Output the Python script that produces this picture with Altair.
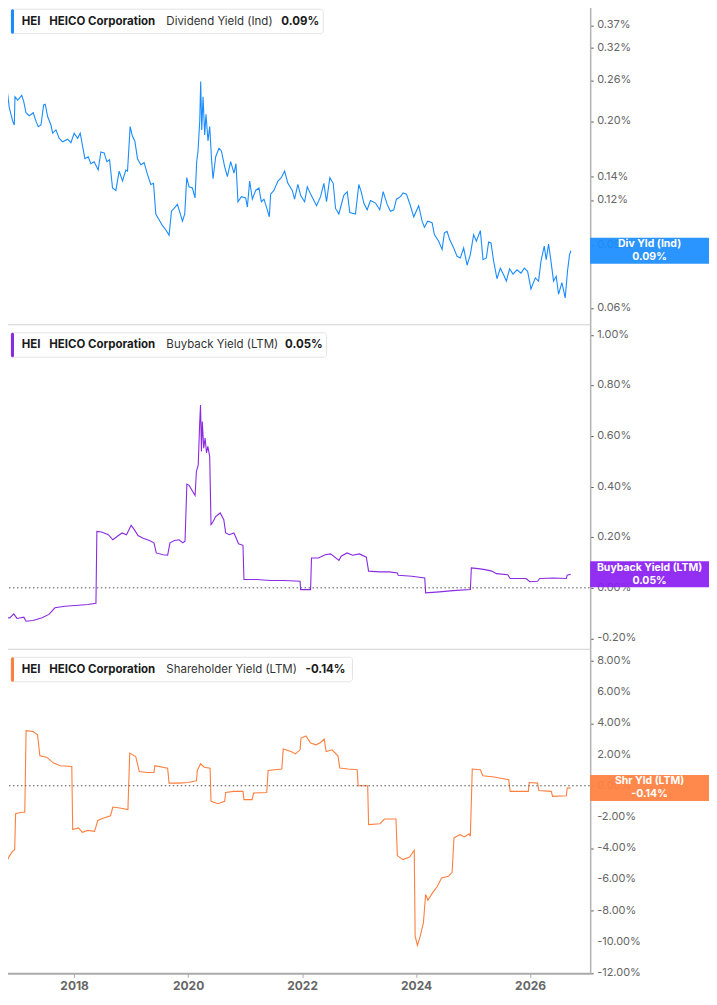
# HEI yields dashboard: dividend, buyback, shareholder yield


import pandas as pd
import altair as alt


# x as decimal year, values in percent
div_years = [
    2016.717, 2016.775, 2016.834, 2016.862, 2016.922, 2016.950, 2016.962, 2017.010, 2017.080, 2017.115,
    2017.155, 2017.213, 2017.283, 2017.330, 2017.371, 2017.418, 2017.465, 2017.493, 2017.535, 2017.593,
    2017.623, 2017.681, 2017.739, 2017.798, 2017.886, 2017.944, 2018.001, 2018.061, 2018.107, 2018.149,
    2018.189, 2018.247, 2018.294, 2018.352, 2018.422, 2018.469, 2018.527, 2018.574, 2018.622, 2018.674,
    2018.732, 2018.790, 2018.849, 2018.907, 2018.937, 2018.983, 2019.025, 2019.065, 2019.112, 2019.170,
    2019.228, 2019.287, 2019.345, 2019.393, 2019.433, 2019.491, 2019.550, 2019.608, 2019.666, 2019.708,
    2019.754, 2019.813, 2019.901, 2019.941, 2019.976, 2020.016, 2020.076, 2020.121, 2020.151, 2020.174,
    2020.204, 2020.221, 2020.239, 2020.262, 2020.291, 2020.314, 2020.349, 2020.379, 2020.414, 2020.437,
    2020.484, 2020.542, 2020.584, 2020.642, 2020.689, 2020.747, 2020.805, 2020.840, 2020.875, 2020.935,
    2021.010, 2021.040, 2021.080, 2021.127, 2021.185, 2021.243, 2021.285, 2021.331, 2021.390, 2021.425,
    2021.448, 2021.506, 2021.576, 2021.635, 2021.693, 2021.751, 2021.828, 2021.868, 2021.926, 2021.974,
    2022.044, 2022.091, 2022.161, 2022.254, 2022.324, 2022.382, 2022.429, 2022.487, 2022.546, 2022.587,
    2022.645, 2022.732, 2022.792, 2022.837, 2022.937, 2022.995, 2023.037, 2023.083, 2023.142, 2023.200,
    2023.288, 2023.363, 2023.423, 2023.493, 2023.550, 2023.609, 2023.656, 2023.726, 2023.773, 2023.831,
    2023.901, 2023.959, 2024.046, 2024.106, 2024.146, 2024.204, 2024.281, 2024.322, 2024.397, 2024.457,
    2024.497, 2024.544, 2024.590, 2024.660, 2024.719, 2024.777, 2024.835, 2024.895, 2024.952, 2025.010,
    2025.058, 2025.128, 2025.175, 2025.233, 2025.273, 2025.315, 2025.361, 2025.420, 2025.478, 2025.536,
    2025.584, 2025.641, 2025.701, 2025.771, 2025.841, 2025.899, 2025.957, 2026.016, 2026.092, 2026.149,
    2026.192, 2026.249, 2026.284, 2026.325, 2026.367, 2026.412, 2026.459, 2026.500, 2026.559, 2026.617,
    2026.657, 2026.693, 2026.717,
]
div_values = [
    0.229, 0.237, 0.238, 0.218, 0.200, 0.195, 0.234, 0.229, 0.236, 0.227,
    0.211, 0.207, 0.211, 0.200, 0.193, 0.195, 0.222, 0.223, 0.206, 0.195,
    0.185, 0.189, 0.179, 0.175, 0.178, 0.174, 0.185, 0.179, 0.185, 0.170,
    0.157, 0.159, 0.152, 0.154, 0.146, 0.164, 0.163, 0.154, 0.156, 0.130,
    0.128, 0.145, 0.136, 0.146, 0.145, 0.193, 0.181, 0.176, 0.157, 0.151,
    0.153, 0.142, 0.133, 0.134, 0.110, 0.106, 0.102, 0.0994, 0.0959, 0.112,
    0.114, 0.117, 0.105, 0.110, 0.139, 0.131, 0.130, 0.122, 0.154, 0.165,
    0.200, 0.258, 0.189, 0.234, 0.183, 0.209, 0.176, 0.193, 0.154, 0.138,
    0.159, 0.168, 0.165, 0.149, 0.140, 0.154, 0.143, 0.152, 0.119, 0.123,
    0.122, 0.115, 0.136, 0.121, 0.128, 0.130, 0.119, 0.121, 0.113, 0.108,
    0.125, 0.128, 0.136, 0.139, 0.145, 0.134, 0.128, 0.121, 0.133, 0.124,
    0.119, 0.131, 0.124, 0.116, 0.123, 0.134, 0.119, 0.139, 0.134, 0.114,
    0.110, 0.124, 0.127, 0.111, 0.110, 0.133, 0.127, 0.118, 0.113, 0.120,
    0.118, 0.113, 0.127, 0.117, 0.112, 0.113, 0.121, 0.123, 0.126, 0.125,
    0.116, 0.108, 0.116, 0.105, 0.101, 0.105, 0.104, 0.0963, 0.0923, 0.0876,
    0.0974, 0.0984, 0.0933, 0.0884, 0.0838, 0.0829, 0.0884, 0.0791, 0.0847, 0.0963,
    0.0923, 0.0988, 0.0820, 0.0829, 0.0919, 0.0913, 0.0812, 0.0725, 0.0776, 0.0744,
    0.0714, 0.0773, 0.0747, 0.0768, 0.0752, 0.0776, 0.0761, 0.0679, 0.0729, 0.0714,
    0.0812, 0.0894, 0.0820, 0.0907, 0.0812, 0.0714, 0.0737, 0.0656, 0.0707, 0.0641,
    0.0761, 0.0847, 0.0868,
]

buy_years = [
    2016.717, 2016.876, 2016.941, 2016.997, 2017.118, 2017.157, 2017.278, 2017.439, 2017.558, 2017.663,
    2017.838, 2018.078, 2018.240, 2018.383, 2018.399, 2018.480, 2018.601, 2018.679, 2018.760, 2018.841,
    2018.919, 2019.000, 2019.056, 2019.121, 2019.200, 2019.321, 2019.401, 2019.442, 2019.561, 2019.641,
    2019.682, 2019.762, 2019.841, 2019.906, 2019.946, 2019.978, 2020.018, 2020.081, 2020.122, 2020.146,
    2020.178, 2020.202, 2020.218, 2020.234, 2020.249, 2020.274, 2020.298, 2020.323, 2020.346, 2020.379,
    2020.402, 2020.442, 2020.483, 2020.563, 2020.626, 2020.659, 2020.723, 2020.803, 2020.843, 2020.884,
    2020.963, 2020.980, 2021.203, 2021.444, 2021.684, 2021.965, 2021.974, 2022.149, 2022.165, 2022.286,
    2022.405, 2022.501, 2022.647, 2022.685, 2022.790, 2022.887, 2023.006, 2023.127, 2023.167, 2023.367,
    2023.528, 2023.672, 2023.687, 2023.927, 2024.152, 2024.168, 2024.409, 2024.649, 2024.953, 2024.970,
    2025.089, 2025.210, 2025.329, 2025.410, 2025.609, 2025.650, 2025.930, 2025.995, 2026.132, 2026.170,
    2026.412, 2026.637, 2026.652, 2026.715,
]
buy_values = [
    -0.121, -0.118, -0.103, -0.121, -0.116, -0.132, -0.129, -0.118, -0.105, -0.079,
    -0.073, -0.069, -0.066, -0.061, 0.223, 0.221, 0.210, 0.190, 0.204, 0.217,
    0.210, 0.247, 0.230, 0.207, 0.197, 0.187, 0.178, 0.138, 0.131, 0.129,
    0.178, 0.187, 0.190, 0.178, 0.184, 0.410, 0.405, 0.381, 0.365, 0.460,
    0.486, 0.644, 0.723, 0.539, 0.657, 0.552, 0.592, 0.533, 0.559, 0.519,
    0.250, 0.263, 0.282, 0.296, 0.269, 0.217, 0.210, 0.217, 0.197, 0.174,
    0.168, 0.033, 0.033, 0.029, 0.029, 0.026, -0.007, -0.007, 0.118, 0.118,
    0.131, 0.134, 0.108, 0.125, 0.138, 0.129, 0.134, 0.121, 0.066, 0.063,
    0.063, 0.059, 0.050, 0.046, 0.039, -0.020, -0.016, -0.011, -0.007, 0.079,
    0.076, 0.072, 0.066, 0.056, 0.052, 0.037, 0.037, 0.024, 0.026, 0.037,
    0.039, 0.037, 0.050, 0.054,
]

shr_years = [
    2016.717, 2016.813, 2016.861, 2016.917, 2016.957, 2016.973, 2017.078, 2017.134, 2017.157, 2017.278,
    2017.358, 2017.399, 2017.518, 2017.639, 2017.758, 2017.959, 2017.975, 2018.078, 2018.143, 2018.240,
    2018.359, 2018.415, 2018.520, 2018.639, 2018.679, 2018.800, 2018.944, 2018.976, 2019.081, 2019.144,
    2019.280, 2019.401, 2019.417, 2019.641, 2019.666, 2019.841, 2020.002, 2020.146, 2020.162, 2020.218,
    2020.283, 2020.386, 2020.402, 2020.523, 2020.642, 2020.659, 2020.803, 2020.963, 2020.980, 2021.124,
    2021.148, 2021.380, 2021.404, 2021.644, 2021.669, 2021.806, 2021.884, 2021.965, 2021.981, 2022.068,
    2022.149, 2022.245, 2022.326, 2022.389, 2022.422, 2022.526, 2022.629, 2022.662, 2022.806, 2022.967,
    2022.983, 2023.151, 2023.167, 2023.367, 2023.447, 2023.647, 2023.672, 2023.768, 2023.887, 2023.968,
    2023.984, 2024.024, 2024.073, 2024.129, 2024.168, 2024.208, 2024.288, 2024.369, 2024.448, 2024.569,
    2024.633, 2024.665, 2024.768, 2024.849, 2024.930, 2024.953, 2024.986, 2025.129, 2025.170, 2025.369,
    2025.627, 2025.650, 2025.970, 2025.986, 2026.132, 2026.154, 2026.372, 2026.396, 2026.637, 2026.652,
    2026.715,
]
shr_values = [
    -4.77, -4.86, -4.52, -4.20, -4.09, -1.79, -1.70, -1.70, 3.53, 3.47,
    3.26, 1.92, 1.83, 1.45, 1.28, 1.23, -2.81, -2.70, -2.98, -2.86,
    -2.92, -2.22, -2.06, -1.92, -1.36, -1.42, -1.53, 2.09, 1.87, 0.91,
    0.85, 0.85, 1.28, 1.13, 0.17, 0.17, 0.21, 0.32, 0.98, 1.41,
    1.19, 1.13, -1.00, -1.15, -1.00, -0.43, -0.36, -0.36, -0.89, -0.89,
    -0.47, -0.43, 0.98, 1.07, 2.35, 2.19, 2.04, 2.30, 3.05, 3.19,
    2.73, 2.62, 2.77, 2.98, 2.19, 2.30, 1.92, 1.13, 1.07, 1.02,
    0.00, 0.00, -2.49, -2.43, -2.13, -2.13, -4.47, -4.73, -4.56, -4.13,
    -9.63, -10.22, -9.63, -8.77, -6.96, -7.33, -6.86, -6.47, -5.90, -5.80,
    -5.54, -3.34, -3.13, -3.28, -3.07, -3.24, 1.07, 1.02, 0.64, 0.56,
    0.38, -0.36, -0.36, 0.21, 0.17, -0.30, -0.36, -0.68, -0.64, -0.15,
    -0.14,
]

metrics = ["Dividend Yield (Ind)", "Buyback Yield (LTM)", "Shareholder Yield (LTM)"]
tag_names = ["Div Yld (Ind)", "Buyback Yield (LTM)", "Shr Yld (LTM)"]
latest = [0.09, 0.05, -0.14]
line_colors = ["#1a8cff", "#8a2be2", "#ff7f3f"]
tag_colors = ["#1a8cff", "#8a1ff2", "#ff8040"]

div_ticks = [0.06, 0.09, 0.12, 0.14, 0.20, 0.26, 0.32, 0.37]
buy_ticks = [-0.2, 0.0, 0.2, 0.4, 0.6, 0.8, 1.0]
shr_ticks = [-12, -10, -8, -6, -4, -2, 0, 2, 4, 6, 8]
year_ticks = [2018, 2020, 2022, 2024, 2026]

FONT = "Inter"
W = 590
X_DOMAIN = [2016.717, 2027.055]

# flat box drawn as a custom symbol: x in [-1, 1] spans sqrt(size) pixels
TAG_W, TAG_H = 119, 26
_h = TAG_H / TAG_W
TAG_SHAPE = f"M -1 -{_h:.4f} L 1 -{_h:.4f} L 1 {_h:.4f} L -1 {_h:.4f} Z"

one_row = pd.DataFrame({"k": [0]})


def panel(i, years, values, y_scale, ticks, height, value_x, legend_right,
          zero_line=False, bottom=False):
    df = pd.DataFrame({"year": years, "value": values})

    if bottom:
        x_axis = alt.Axis(
            values=year_ticks, format="d", title=None, grid=False,
            labelFont=FONT, labelFontWeight="bold", labelFontSize=12,
            labelColor="#666", labelPadding=3,
            tickColor="#aaa", tickSize=4,
            domainColor="#aaa", domainWidth=2,
        )
    else:
        x_axis = alt.Axis(labels=False, ticks=False, title=None, grid=False,
                          domainColor="#d0d0d0", domainWidth=1)

    # the axis gives the line and ticks, its labels are a text layer below
    y_axis = alt.Axis(
        orient="right", values=ticks, title=None, grid=False, labels=False,
        tickColor="#555", tickSize=3,
        domainColor="#b3b3b3", domainWidth=1.5,
    )
    y_enc = alt.Y("value:Q", scale=y_scale, axis=y_axis)

    line = alt.Chart(df).mark_line(
        color=line_colors[i], strokeWidth=1.1, clip=True
    ).encode(
        x=alt.X("year:Q", scale=alt.Scale(domain=X_DOMAIN, nice=False, zero=False), axis=x_axis),
        y=y_enc,
    )

    layers = [line]

    # dotted line at zero
    if zero_line:
        layers.append(
            alt.Chart(one_row).mark_rule(color="#555", strokeDash=[1.5, 2.5], strokeWidth=1)
            .encode(y=alt.datum(0), x=alt.value(0), x2=alt.value(W))
        )

    # right axis tick labels
    tick_df = pd.DataFrame({"value": ticks, "label": [f"{t:.2f}%" for t in ticks]})
    layers.append(
        alt.Chart(tick_df).mark_text(
            align="left", baseline="middle", font=FONT, fontSize=11, color="#666",
        ).encode(x=alt.value(W + 7), y=y_enc, text="label:N")
    )

    # legend box, top left
    layers.append(
        alt.Chart(one_row).mark_rect(fill="white", stroke="#e4e4e4", strokeWidth=1, cornerRadius=3)
        .encode(x=alt.value(10), x2=alt.value(legend_right), y=alt.value(8.5), y2=alt.value(33))
    )
    layers.append(
        alt.Chart(one_row).mark_rect(fill=line_colors[i], cornerRadius=1.5)
        .encode(x=alt.value(10), x2=alt.value(13), y=alt.value(8.5), y2=alt.value(33))
    )
    legend_bits = [
        ("HEI", 20.7, "bold", "#1a1a1a"),
        ("HEICO Corporation", 48.3, "bold", "#1a1a1a"),
        (metrics[i], 165.6, "normal", "#333"),
        (f"{latest[i]:.2f}%", value_x, "bold", "#1a1a1a"),
    ]
    for text, tx, weight, col in legend_bits:
        layers.append(
            alt.Chart(one_row).mark_text(
                text=text, align="left", baseline="middle", font=FONT,
                fontSize=11.5, fontWeight=weight, color=col,
            ).encode(x=alt.value(tx), y=alt.value(21))
        )

    # value tag on the right axis, at the last point
    tag = pd.DataFrame({
        "value": [values[-1]],
        "name": [tag_names[i]],
        "label": [f"{latest[i]:.2f}%"],
    })
    layers.append(
        alt.Chart(tag).mark_point(
            shape=TAG_SHAPE, size=TAG_W * TAG_W, filled=True,
            color=tag_colors[i], opacity=0.93, strokeWidth=0,
        ).encode(x=alt.value(W + TAG_W / 2), y=y_enc)
    )
    for field, dy in [("name", -6.5), ("label", 6.5)]:
        layers.append(
            alt.Chart(tag).mark_text(
                font=FONT, fontSize=10.5, fontWeight="bold", color="white",
                align="center", baseline="middle", dy=dy,
            ).encode(x=alt.value(W + TAG_W / 2), y=y_enc, text=f"{field}:N")
        )

    return alt.layer(*layers).properties(width=W, height=height)


p1 = panel(
    0, div_years, div_values,
    alt.Scale(type="log", domain=[0.0541, 0.434], nice=False, zero=False),
    div_ticks, 324, 280.7, 322.7,
)
p2 = panel(
    1, buy_years, buy_values,
    alt.Scale(domain=[-0.241, 1.042], nice=False, zero=False),
    buy_ticks, 325, 284.4, 326, zero_line=True,
)
p3 = panel(
    2, shr_years, shr_values,
    alt.Scale(domain=[-12.01, 8.77], nice=False, zero=False),
    shr_ticks, 325, 305, 352, zero_line=True, bottom=True,
)

# negative padding pulls the chart over the page margin, as in the original
chart = (
    alt.vconcat(p1, p2, p3, spacing=0, bounds="flush")
    .properties(padding={"left": -8, "top": -8, "right": 0, "bottom": 0})
    .configure_view(strokeWidth=0)
)

chart.save("out.html", embed_options={"renderer": "svg", "actions": False})
